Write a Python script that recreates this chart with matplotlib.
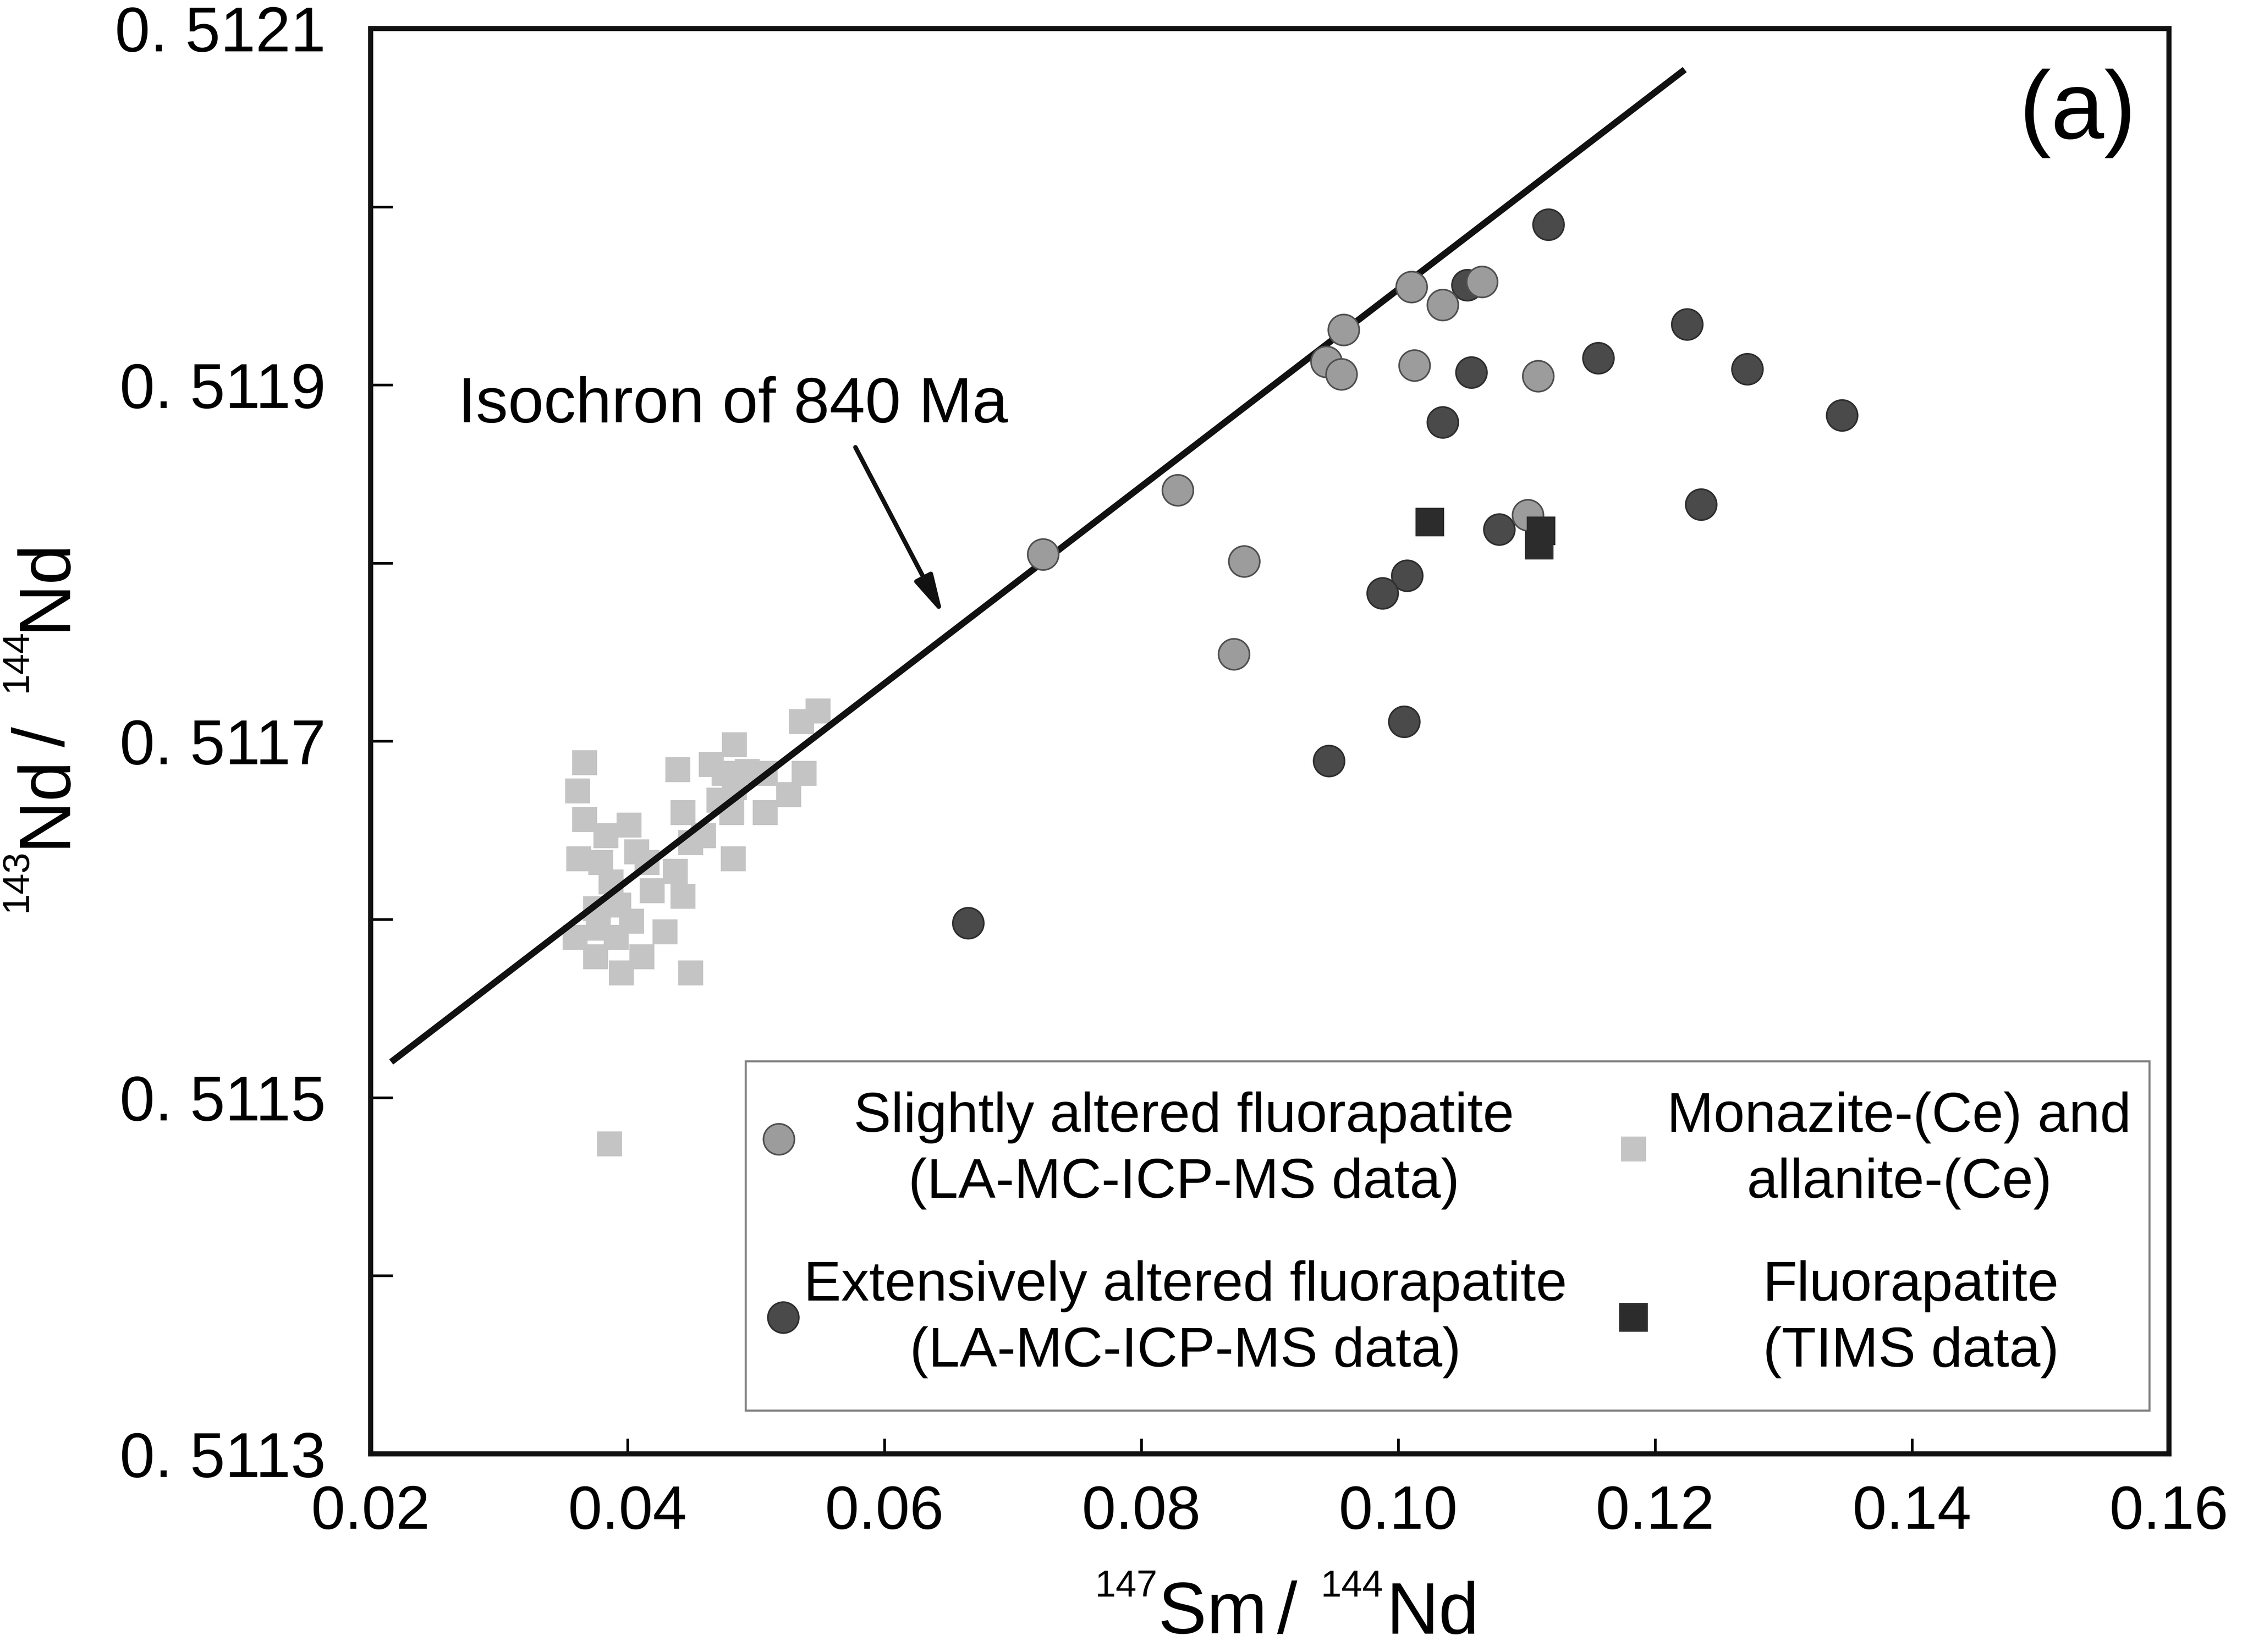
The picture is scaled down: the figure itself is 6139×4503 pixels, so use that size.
import matplotlib
matplotlib.use("Agg")
import matplotlib.pyplot as plt
from matplotlib.patches import Rectangle

plt.rcParams['font.family'] = ['Liberation Sans', 'DejaVu Sans']

# ---------------- data ----------------
slight_x = [0.07235, 0.08283, 0.08801, 0.08720, 0.09575, 0.09441, 0.09558,
            0.10103, 0.10126, 0.10345, 0.10652, 0.11088, 0.11008]
slight_y = [0.511805, 0.511841, 0.511801, 0.511749, 0.511931, 0.511913, 0.511906,
            0.511955, 0.511911, 0.511945, 0.511958, 0.511905, 0.511827]

ext_x = [0.11168, 0.10538, 0.12248, 0.11556, 0.12716, 0.10569, 0.10345, 0.13454,
         0.12357, 0.10786, 0.10069, 0.09878, 0.10045, 0.09461, 0.06652]
ext_y = [0.511990, 0.511956, 0.511934, 0.511915, 0.511909, 0.511907, 0.511879, 0.511883,
         0.511833, 0.511819, 0.511793, 0.511783, 0.511711, 0.511689, 0.511598]

tims_x = [0.10246, 0.11111, 0.11097]
tims_y = [0.511823, 0.511818, 0.511810]

mon_x = [0.03666, 0.03610, 0.03666, 0.04010, 0.03830, 0.03620, 0.03790, 0.04070,
         0.03870, 0.04150, 0.04371, 0.04191, 0.04431, 0.03750, 0.03930, 0.03590,
         0.03770, 0.04030, 0.04291, 0.03750, 0.03950, 0.04110, 0.04491, 0.03910,
         0.04832, 0.04391, 0.04651, 0.04932, 0.05072, 0.04431, 0.04711, 0.04812,
         0.04591, 0.04491, 0.04822, 0.05072, 0.05253, 0.05373, 0.05353, 0.05483,
         0.04752, 0.04832, 0.03860]
mon_y = [0.511688, 0.511672, 0.511656, 0.511653, 0.511647, 0.511634, 0.511632, 0.511638,
         0.511621, 0.511632, 0.511627, 0.511616, 0.511613, 0.511606, 0.511608, 0.511590,
         0.511595, 0.511599, 0.511593, 0.511579, 0.511570, 0.511579, 0.511570, 0.511590,
         0.511698, 0.511684, 0.511687, 0.511683, 0.511682, 0.511660, 0.511667, 0.511660,
         0.511647, 0.511643, 0.511634, 0.511660, 0.511670, 0.511682, 0.511711, 0.511717,
         0.511682, 0.511674, 0.511474]

iso_x = [0.0216, 0.1223]
iso_y = [0.511520, 0.512077]

xticks = [0.02, 0.04, 0.06, 0.08, 0.10, 0.12, 0.14, 0.16]
xtick_labels = ["0.02", "0.04", "0.06", "0.08", "0.10", "0.12", "0.14", "0.16"]
yticks = [0.5113, 0.5115, 0.5117, 0.5119, 0.5121]
ytick_labels = ["0. 5113", "0. 5115", "0. 5117", "0. 5119", "0. 5121"]
yminor = [0.5114, 0.5116, 0.5118, 0.5120]

labels = ["Slightly altered fluorapatite\n(LA-MC-ICP-MS data)",
          "Extensively altered fluorapatite\n(LA-MC-ICP-MS data)",
          "Monazite-(Ce) and\nallanite-(Ce)",
          "Fluorapatite\n(TIMS data)"]

# ---------------- figure ----------------
W, H = 6139, 4503
DPI = 400
fig = plt.figure(figsize=(W / DPI, H / DPI), dpi=DPI)
ax = fig.add_axes([1010 / W, 1 - 3963 / H, (5910 - 1010) / W, (3963 - 78) / H])
ax.set_xlim(0.02, 0.16)
ax.set_ylim(0.5113, 0.5121)

h_mon = ax.scatter(mon_x, mon_y, s=150, marker='s', c='#c4c4c4', linewidths=0,
                   zorder=2, label=labels[2])
ax.plot(iso_x, iso_y, color='#111111', lw=3.2, solid_capstyle='butt', zorder=3)
h_ext = ax.scatter(ext_x, ext_y, s=230, marker='o', c='#4a4a4a', edgecolors='#2e2e2e',
                   linewidths=0.8, zorder=4, label=labels[1])
h_sl = ax.scatter(slight_x, slight_y, s=230, marker='o', c='#9c9c9c', edgecolors='#505050',
                  linewidths=0.8, zorder=5, label=labels[0])
h_tims = ax.scatter(tims_x, tims_y, s=200, marker='s', c='#2c2c2c', linewidths=0,
                    zorder=6, label=labels[3])

# annotation
ax.text(0.0268, 0.511879, "Isochron of 840 Ma", fontsize=31.5, ha='left', va='baseline')
ax.annotate("", xy=(0.06456, 0.511771), xytext=(0.05774, 0.511865),
            arrowprops=dict(arrowstyle="-|>,head_length=1.6,head_width=0.4",
                            mutation_scale=10, lw=2.2, color='#111111',
                            shrinkA=0, shrinkB=0))

# axes styling
for sp in ax.spines.values():
    sp.set_linewidth(2.5)
    sp.set_color('#111111')
ax.set_xticks(xticks)
ax.set_xticklabels(xtick_labels)
ax.set_yticks(yticks)
ax.set_yticklabels(ytick_labels)
ax.set_yticks(yminor, minor=True)
ax.tick_params(axis='x', which='both', direction='in', length=7.5, width=1.3,
               pad=15, labelsize=30, top=False)
ax.tick_params(axis='y', which='both', direction='in', length=10.8, width=1.3,
               pad=22, labelsize=31, right=False)

# ---------------- legend ----------------
FS = 27.5
LS = 1.35
HL = 0.8
renderer = fig.canvas.get_renderer()
fs_px = FS * DPI / 72.0
ax_w_px = 5910 - 1010
ax_h_px = 3963 - 78


def ax_fx(px):
    return (px - 1010) / ax_w_px


def ax_fy(py):
    return (3963 - py) / ax_h_px


# (handle, label, marker x, text centre x, text centre y, marker y-offset)
entries = [(h_sl, labels[0], 2122, 3226, 3136, 0.80),
           (h_ext, labels[1], 2134, 3230, 3596, 0.56),
           (h_mon, labels[2], 4451, 5175, 3136, 0.55),
           (h_tims, labels[3], 4451, 5207, 3596, 0.56)]

for handle, lab, mx, tcx, tcy, yoff in entries:
    t = fig.text(0, 0, lab, fontsize=FS, multialignment='center', linespacing=LS)
    w = t.get_window_extent(renderer).width
    t.remove()
    hl_px = HL * fs_px
    htp_px = tcx - w / 2 - (mx + hl_px / 2)
    leg = ax.legend(handles=[handle], labels=[lab], loc='center left',
                    bbox_to_anchor=(ax_fx(mx - hl_px / 2), ax_fy(tcy)),
                    frameon=False, fontsize=FS, handlelength=HL,
                    handletextpad=htp_px / fs_px, borderpad=0, borderaxespad=0,
                    scatterpoints=1, scatteryoffsets=[yoff])
    for tt in leg.get_texts():
        tt.set_multialignment('center')
        tt.set_linespacing(LS)
    ax.add_artist(leg)

ax.add_patch(Rectangle((ax_fx(2032), ax_fy(3845)), ax_fx(5857) - ax_fx(2032),
                       ax_fy(2893) - ax_fy(3845), transform=ax.transAxes,
                       fill=False, edgecolor='#808080', linewidth=1.0, zorder=7))

# ---------------- axis labels (super-scripted isotopes) ----------------
def fx(px):
    return px / W


def fy(py):
    return 1 - py / H


xl_pieces = [("147", 18.4, 2983, 4352), ("Sm", 35.6, 3156, 4452), ("/", 35.6, 3480, 4452),
             ("144", 18.4, 3598, 4352), ("Nd", 35.6, 3778, 4452)]
for s, size, px, py in xl_pieces:
    fig.text(fx(px), fy(py), s, fontsize=size, ha='left', va='baseline')

yl_pieces = [("143", 18.4, 72, 2486), ("Nd", 35.6, 175, 2310), ("/", 35.6, 175, 2036),
             ("144", 18.4, 72, 1887), ("Nd", 35.6, 175, 1719)]
for s, size, px, py in yl_pieces:
    fig.text(fx(px), fy(py), s, fontsize=size, ha='left', va='baseline',
             rotation=90, rotation_mode='anchor')

fig.text(fx(5661), fy(377), "(a)", fontsize=47, ha='center', va='baseline')

fig.savefig("out.png", dpi=DPI)
